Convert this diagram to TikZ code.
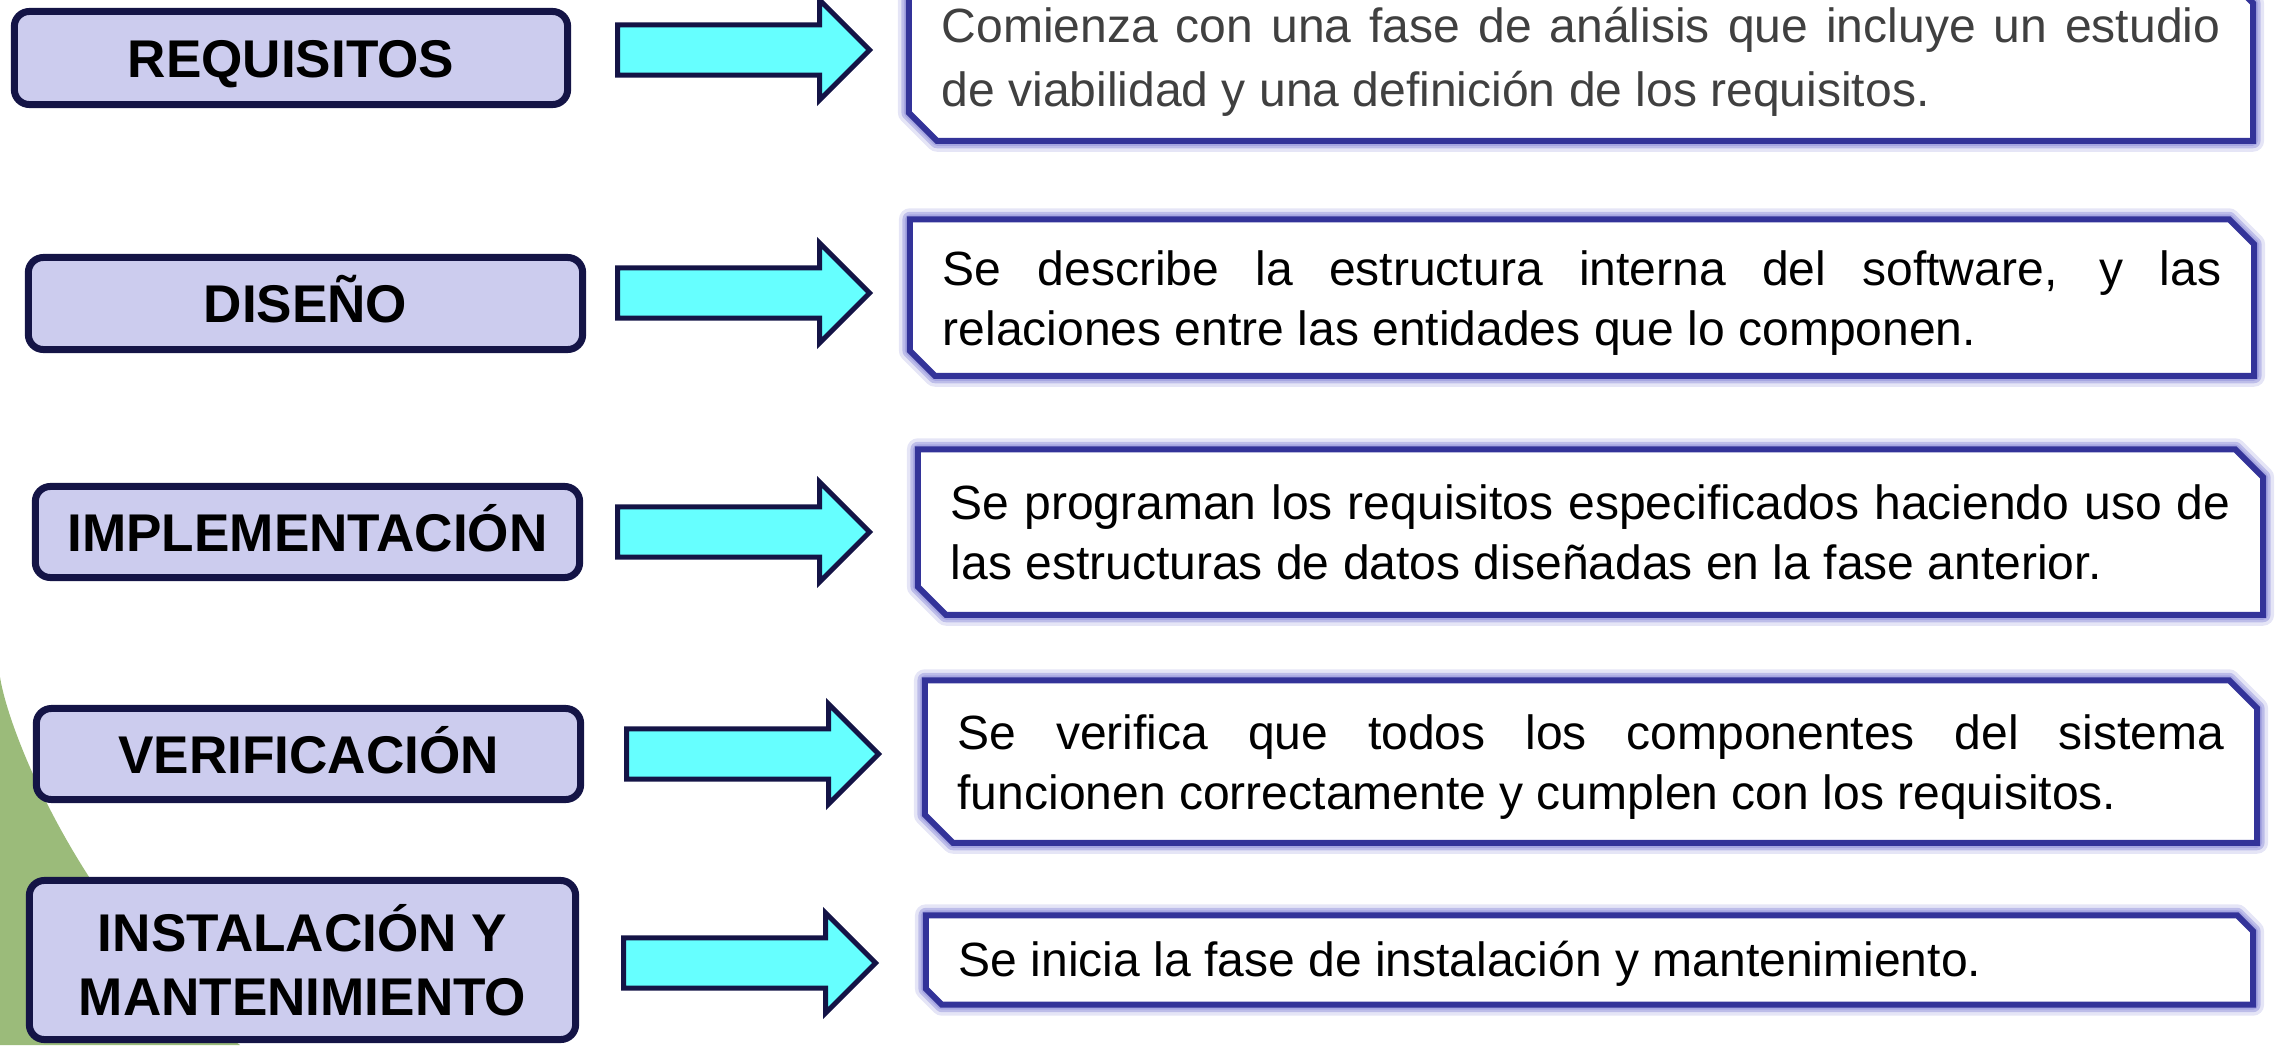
\documentclass[tikz,border=0pt]{standalone}
\usepackage{fontspec}
\setmainfont{Liberation Sans}
\usetikzlibrary{shapes.arrows,calc}
\definecolor{lavbox}{RGB}{204,204,238}
\definecolor{navyline}{RGB}{20,20,70}
\definecolor{cyanfill}{RGB}{102,255,255}
\definecolor{snipblue}{RGB}{51,51,153}
\definecolor{glowblue}{RGB}{150,150,220}
\definecolor{bggreen}{RGB}{155,187,122}
\definecolor{greytext}{RGB}{64,64,64}
\newcommand{\phasefont}{\bfseries\fontsize{15.1}{18.2}\selectfont}
\newcommand{\descfont}{\fontsize{13.66}{17.07}\selectfont}
\newcommand{\descfontwide}{\fontsize{13.66}{18.2}\selectfont}
\begin{document}
\begin{tikzpicture}[x=0.01cm,y=-0.01cm,line cap=round,line join=round,
	phase/.style={draw=navyline,line width=0.07cm,fill=lavbox,rounded corners=0.15cm,font=\phasefont,align=center,inner sep=0pt},
	oneline/.style={text height=0.38cm,text depth=0pt},
	blockarrow/.style={shape=single arrow,draw=navyline,line width=0.05cm,line join=miter,fill=cyanfill,minimum height=2.52cm,inner xsep=0pt,inner ysep=0.225cm,single arrow head extend=0.25cm,anchor=tail},
	frame/.style={inner sep=0pt,minimum width=13.42cm},
	desc/.style={font=\descfont,align=justify,inner sep=0pt},
	snip/.style={draw=snipblue,line width=0.06cm,line join=miter,fill=white,preaction={draw=glowblue,opacity=0.25,line width=0.22cm},preaction={draw=glowblue,opacity=0.5,line width=0.15cm},preaction={draw=glowblue,opacity=0.6,line width=0.1cm}}]
		\useasboundingbox (0,0) rectangle (2275,1045);
		\fill[bggreen] (0,677) .. controls (10,740) and (90,930) .. (240,1045) -- (0,1045) -- cycle;
		\node[phase,oneline,minimum width=5.53cm,minimum height=0.93cm] (req) at (291,58) {REQUISITOS};
		\node[phase,oneline,minimum width=5.54cm,minimum height=0.92cm] (dis) at (305.5,303.5) {DISEÑO};
		\node[phase,oneline,minimum width=5.44cm,minimum height=0.91cm] (imp) at (307.5,532) {IMPLEMENTACIÓN};
		\node[phase,oneline,minimum width=5.44cm,minimum height=0.91cm] (ver) at (308.5,754) {VERIFICACIÓN};
		\node[phase,minimum width=5.46cm,minimum height=1.59cm] (ins) at (302.5,960) {INSTALACIÓN Y\\MANTENIMIENTO};
		\node[blockarrow] (ar1) at (615,50) {};
		\node[blockarrow] (ar2) at (615,293) {};
		\node[blockarrow] (ar3) at (615,532) {};
		\node[blockarrow] (ar4) at (624,754) {};
		\node[blockarrow] (ar5) at (621,963) {};
		\node[frame,minimum height=1.64cm] (f1) at (1581,58) {};
		\node[frame,minimum height=1.55cm] (f2) at (1582,297.5) {};
		\node[frame,minimum width=13.43cm,minimum height=1.64cm] (f3) at (1590.5,532) {};
		\node[frame,minimum width=13.30cm,minimum height=1.61cm] (f4) at (1591,761.5) {};
		\node[frame,minimum width=13.25cm,minimum height=0.88cm] (f5) at (1589.5,960) {};
		\draw[snip] (f1.north west) -- ($(f1.north east)+(-28,0)$) -- ($(f1.north east)+(0,28)$) -- (f1.south east) -- ($(f1.south west)+(28,0)$) -- ($(f1.south west)+(0,-28)$) -- cycle;
		\draw[snip] (f2.north west) -- ($(f2.north east)+(-25,0)$) -- ($(f2.north east)+(0,25)$) -- (f2.south east) -- ($(f2.south west)+(25,0)$) -- ($(f2.south west)+(0,-25)$) -- cycle;
		\draw[snip] (f3.north west) -- ($(f3.north east)+(-28,0)$) -- ($(f3.north east)+(0,28)$) -- (f3.south east) -- ($(f3.south west)+(28,0)$) -- ($(f3.south west)+(0,-28)$) -- cycle;
		\draw[snip] (f4.north west) -- ($(f4.north east)+(-28,0)$) -- ($(f4.north east)+(0,28)$) -- (f4.south east) -- ($(f4.south west)+(28,0)$) -- ($(f4.south west)+(0,-28)$) -- cycle;
		\draw[snip] (f5.north west) -- ($(f5.north east)+(-16,0)$) -- ($(f5.north east)+(0,16)$) -- (f5.south east) -- ($(f5.south west)+(16,0)$) -- ($(f5.south west)+(0,-16)$) -- cycle;
		\node[desc,font=\descfontwide,text=greytext,text width=12.78cm] (t1) at ($(f1.center)+(0,4)$) {Comienza con una fase de análisis que incluye un estudio\linebreak de viabilidad y una definición de los requisitos.};
		\node[desc,text width=12.78cm] (t2) at ($(f2.center)+(0,6)$) {Se describe la estructura interna del software, y las\linebreak relaciones entre las entidades que lo componen.};
		\node[desc,text width=12.79cm] (t3) at (f3.center) {Se programan los requisitos especificados haciendo uso de\linebreak las estructuras de datos diseñadas en la fase anterior.};
		\node[desc,text width=12.66cm] (t4) at ($(f4.center)+(0,6)$) {Se verifica que todos los componentes del sistema\linebreak funcionen correctamente y cumplen con los requisitos.};
		\node[desc,text width=12.61cm] (t5) at ($(f5.center)+(0,4)$) {Se inicia la fase de instalación y mantenimiento.};
\end{tikzpicture}
\end{document}
